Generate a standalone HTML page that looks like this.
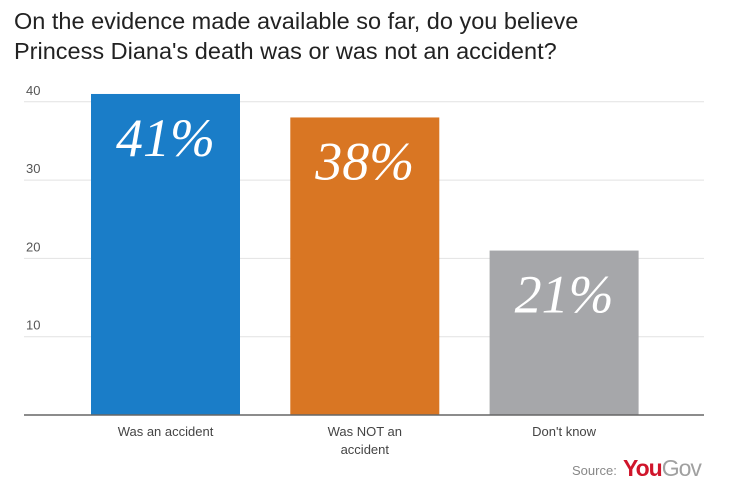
<!DOCTYPE html>
<html><head><meta charset="utf-8"><style>
body{margin:0;background:#fff;width:740px;height:503px;overflow:hidden;font-family:"Liberation Sans",sans-serif}
.t{position:absolute;left:14px;top:6px;font-size:23.5px;line-height:30px;color:#222}
</style></head><body>
<div class="t">On the evidence made available so far, do you believe<br>Princess Diana's death was or was not an accident?</div>
<svg id="c" width="740" height="503" style="position:absolute;left:0;top:0"></svg>
<script>
const categories=["Was an accident","Was NOT an|accident","Don't know"];
const values=[41,38,21];
const labels=["41%","38%","21%"];
const ticks=[10,20,30,40];
const colors=["#1a7dc8","#d97623","#a6a7aa"];
const svg=document.getElementById('c');
const NS="http://www.w3.org/2000/svg";
const y0=415,scale=7.83;
const y=v=>y0-v*scale;
const x=i=>91+i*199.3;
const bw=149;
function el(t,a,txt){const e=document.createElementNS(NS,t);for(const k in a)e.setAttribute(k,a[k]);if(txt!==undefined)e.textContent=txt;svg.appendChild(e);return e;}
ticks.forEach(t=>{
 const g=el('line',{x1:24,x2:704,y1:y(t),y2:y(t),stroke:'#e2e2e2','stroke-width':1});
 
 
 const l=el('text',{x:26,y:y(t)-7,'font-size':13,fill:'#555','font-family':'Liberation Sans'},String(t));
 
 
});
values.forEach((v,i)=>{
 const r=el('rect',{x:x(i),y:y(v),width:bw,height:y0-y(v),fill:colors[i]});
 
 
 const tx=el('text',{x:x(i)+bw/2,y:y(v)+62,'text-anchor':'middle','font-size':54,fill:'#fff','font-style':'italic','font-weight':'normal','font-family':'Liberation Serif'},labels[i]);
 
 
 categories[i].split('|').forEach((s,j)=>{
  const c=el('text',{x:x(i)+bw/2,y:436+j*18,'text-anchor':'middle','font-size':13,fill:'#444','font-family':'Liberation Sans'},s);
  
  
 });
});
const ax=el('line',{x1:24,x2:704,y1:y0,y2:y0,stroke:'#666','stroke-width':1.5});


const s=el('text',{x:572,y:475,'font-size':13,fill:'#888','font-family':'Liberation Sans'},'Source:');


const lg=el('text',{x:623,y:476,'font-size':23,'font-weight':'bold','font-family':'Liberation Sans','letter-spacing':'-1'});


const a=document.createElementNS(NS,'tspan');a.setAttribute('fill','#d0152b');a.textContent='You';lg.appendChild(a);
const b=document.createElementNS(NS,'tspan');b.setAttribute('fill','#a0a0a0');b.setAttribute('font-weight','normal');b.textContent='Gov';lg.appendChild(b);
</script>
</body></html>
